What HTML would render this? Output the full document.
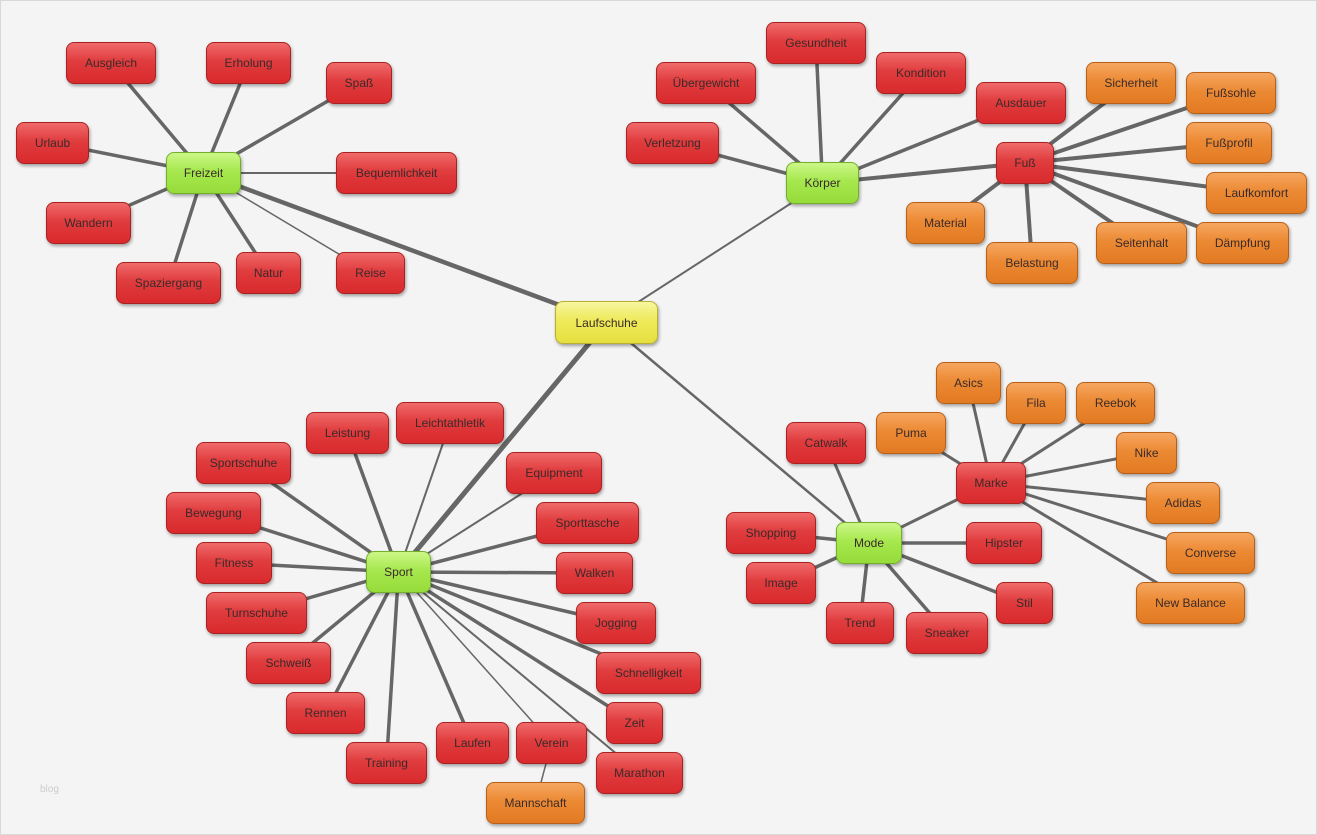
<!DOCTYPE html>
<html><head><meta charset="utf-8"><style>
html,body{margin:0;padding:0;}
body{width:1317px;height:835px;background:#f4f4f4;position:relative;overflow:hidden;font-family:"Liberation Sans",Arial,sans-serif;}
#frame{position:absolute;left:0;top:0;width:1315px;height:833px;border:1px solid #d8d8d8;}
svg{position:absolute;left:0;top:0;}
.n{position:absolute;box-sizing:border-box;border-radius:8px;display:flex;align-items:center;justify-content:center;font-size:12px;color:#3a2a2a;box-shadow:1px 2px 3px rgba(0,0,0,.35);white-space:nowrap;}
.r{background:linear-gradient(#f06a6a,#e03c3e 45%,#d92a2d);border:1px solid #a82222;}
.o{background:linear-gradient(#f6a660,#ec8a34 45%,#e27a22);border:1px solid #b86018;}
.g{background:linear-gradient(#ccf788,#a6e84e 45%,#96dc3a);border:1px solid #72b02c;}
.y{background:linear-gradient(#f8f6a0,#eeea5a 45%,#e6e040);border:1px solid #b8b030;}
.blog{position:absolute;left:40px;top:784px;font-size:10px;color:#ccc;}
</style></head><body>
<div id="frame"></div>
<svg id="s" width="1317" height="835"></svg>
<div class="blog">blog</div>

<div class="n y" id="L" style="left:555px;top:301px;width:103px;height:43px">Laufschuhe</div>
<div class="n g" id="F" style="left:166px;top:152px;width:75px;height:42px">Freizeit</div>
<div class="n g" id="K" style="left:786px;top:162px;width:73px;height:42px">Körper</div>
<div class="n g" id="S" style="left:366px;top:551px;width:65px;height:42px">Sport</div>
<div class="n g" id="M" style="left:836px;top:522px;width:66px;height:42px">Mode</div>
<div class="n r" id="FU" style="left:996px;top:142px;width:58px;height:42px">Fuß</div>
<div class="n r" id="MA" style="left:956px;top:462px;width:70px;height:42px">Marke</div>

<div class="n r" id="f1" style="left:66px;top:42px;width:90px;height:42px">Ausgleich</div>
<div class="n r" id="f2" style="left:206px;top:42px;width:85px;height:42px">Erholung</div>
<div class="n r" id="f3" style="left:326px;top:62px;width:66px;height:42px">Spaß</div>
<div class="n r" id="f4" style="left:16px;top:122px;width:73px;height:42px">Urlaub</div>
<div class="n r" id="f5" style="left:336px;top:152px;width:121px;height:42px">Bequemlichkeit</div>
<div class="n r" id="f6" style="left:46px;top:202px;width:85px;height:42px">Wandern</div>
<div class="n r" id="f7" style="left:116px;top:262px;width:105px;height:42px">Spaziergang</div>
<div class="n r" id="f8" style="left:236px;top:252px;width:65px;height:42px">Natur</div>
<div class="n r" id="f9" style="left:336px;top:252px;width:69px;height:42px">Reise</div>

<div class="n r" id="k1" style="left:766px;top:22px;width:100px;height:42px">Gesundheit</div>
<div class="n r" id="k2" style="left:656px;top:62px;width:100px;height:42px">Übergewicht</div>
<div class="n r" id="k3" style="left:876px;top:52px;width:90px;height:42px">Kondition</div>
<div class="n r" id="k4" style="left:976px;top:82px;width:90px;height:42px">Ausdauer</div>
<div class="n r" id="k5" style="left:626px;top:122px;width:93px;height:42px">Verletzung</div>

<div class="n o" id="u1" style="left:1086px;top:62px;width:90px;height:42px">Sicherheit</div>
<div class="n o" id="u2" style="left:1186px;top:72px;width:90px;height:42px">Fußsohle</div>
<div class="n o" id="u3" style="left:1186px;top:122px;width:86px;height:42px">Fußprofil</div>
<div class="n o" id="u4" style="left:1206px;top:172px;width:101px;height:42px">Laufkomfort</div>
<div class="n o" id="u5" style="left:906px;top:202px;width:79px;height:42px">Material</div>
<div class="n o" id="u6" style="left:986px;top:242px;width:92px;height:42px">Belastung</div>
<div class="n o" id="u7" style="left:1096px;top:222px;width:91px;height:42px">Seitenhalt</div>
<div class="n o" id="u8" style="left:1196px;top:222px;width:93px;height:42px">Dämpfung</div>

<div class="n r" id="s1" style="left:306px;top:412px;width:83px;height:42px">Leistung</div>
<div class="n r" id="s2" style="left:396px;top:402px;width:108px;height:42px">Leichtathletik</div>
<div class="n r" id="s3" style="left:196px;top:442px;width:95px;height:42px">Sportschuhe</div>
<div class="n r" id="s4" style="left:506px;top:452px;width:96px;height:42px">Equipment</div>
<div class="n r" id="s5" style="left:166px;top:492px;width:95px;height:42px">Bewegung</div>
<div class="n r" id="s6" style="left:536px;top:502px;width:103px;height:42px">Sporttasche</div>
<div class="n r" id="s7" style="left:196px;top:542px;width:76px;height:42px">Fitness</div>
<div class="n r" id="s8" style="left:556px;top:552px;width:77px;height:42px">Walken</div>
<div class="n r" id="s9" style="left:206px;top:592px;width:101px;height:42px">Turnschuhe</div>
<div class="n r" id="s10" style="left:576px;top:602px;width:80px;height:42px">Jogging</div>
<div class="n r" id="s11" style="left:246px;top:642px;width:85px;height:42px">Schweiß</div>
<div class="n r" id="s12" style="left:596px;top:652px;width:105px;height:42px">Schnelligkeit</div>
<div class="n r" id="s13" style="left:286px;top:692px;width:79px;height:42px">Rennen</div>
<div class="n r" id="s14" style="left:606px;top:702px;width:57px;height:42px">Zeit</div>
<div class="n r" id="s15" style="left:346px;top:742px;width:81px;height:42px">Training</div>
<div class="n r" id="s16" style="left:436px;top:722px;width:73px;height:42px">Laufen</div>
<div class="n r" id="s17" style="left:516px;top:722px;width:71px;height:42px">Verein</div>
<div class="n r" id="s18" style="left:596px;top:752px;width:87px;height:42px">Marathon</div>
<div class="n o" id="s19" style="left:486px;top:782px;width:99px;height:42px">Mannschaft</div>

<div class="n r" id="m1" style="left:786px;top:422px;width:80px;height:42px">Catwalk</div>
<div class="n r" id="m2" style="left:726px;top:512px;width:90px;height:42px">Shopping</div>
<div class="n r" id="m3" style="left:746px;top:562px;width:70px;height:42px">Image</div>
<div class="n r" id="m4" style="left:826px;top:602px;width:68px;height:42px">Trend</div>
<div class="n r" id="m5" style="left:906px;top:612px;width:82px;height:42px">Sneaker</div>
<div class="n r" id="m6" style="left:996px;top:582px;width:57px;height:42px">Stil</div>
<div class="n r" id="m7" style="left:966px;top:522px;width:76px;height:42px">Hipster</div>

<div class="n o" id="a1" style="left:936px;top:362px;width:65px;height:42px">Asics</div>
<div class="n o" id="a2" style="left:876px;top:412px;width:70px;height:42px">Puma</div>
<div class="n o" id="a3" style="left:1006px;top:382px;width:60px;height:42px">Fila</div>
<div class="n o" id="a4" style="left:1076px;top:382px;width:79px;height:42px">Reebok</div>
<div class="n o" id="a5" style="left:1116px;top:432px;width:61px;height:42px">Nike</div>
<div class="n o" id="a6" style="left:1146px;top:482px;width:74px;height:42px">Adidas</div>
<div class="n o" id="a7" style="left:1166px;top:532px;width:89px;height:42px">Converse</div>
<div class="n o" id="a8" style="left:1136px;top:582px;width:109px;height:42px">New Balance</div>

<script>
var E=[["L","F",4.5],["L","K",2],["L","S",5],["L","M",2.5],["K","FU",4],["M","MA",3],["S19","s17",3]];
function add(p,pre,n,w){for(var i=1;i<=n;i++)E.push([p,pre+i,w]);}
add("F","f",9,3.5);add("K","k",5,3.5);add("FU","u",8,4);add("S","s",18,3.5);add("M","m",7,3.5);add("MA","a",8,3);
E=E.filter(function(e){return !(e[0]=="S"&&e[1]=="s19");});
E.forEach(function(e){if(e[0]=="S19")e[0]="s19";});
var thin={"f5":2,"f9":1.5,"s2":2,"s17":1.5,"s18":2,"s4":2,"m1":3};
var s=document.getElementById("s"),h="";
function c(id){var d=document.getElementById(id);return [d.offsetLeft+d.offsetWidth/2,d.offsetTop+d.offsetHeight/2];}
E.forEach(function(e){var a=c(e[0]),b=c(e[1]);var w=thin[e[1]]||e[2];
h+='<line x1="'+a[0]+'" y1="'+a[1]+'" x2="'+b[0]+'" y2="'+b[1]+'" stroke="#666" stroke-width="'+w+'"/>';});
s.innerHTML=h;
</script>
</body></html>
